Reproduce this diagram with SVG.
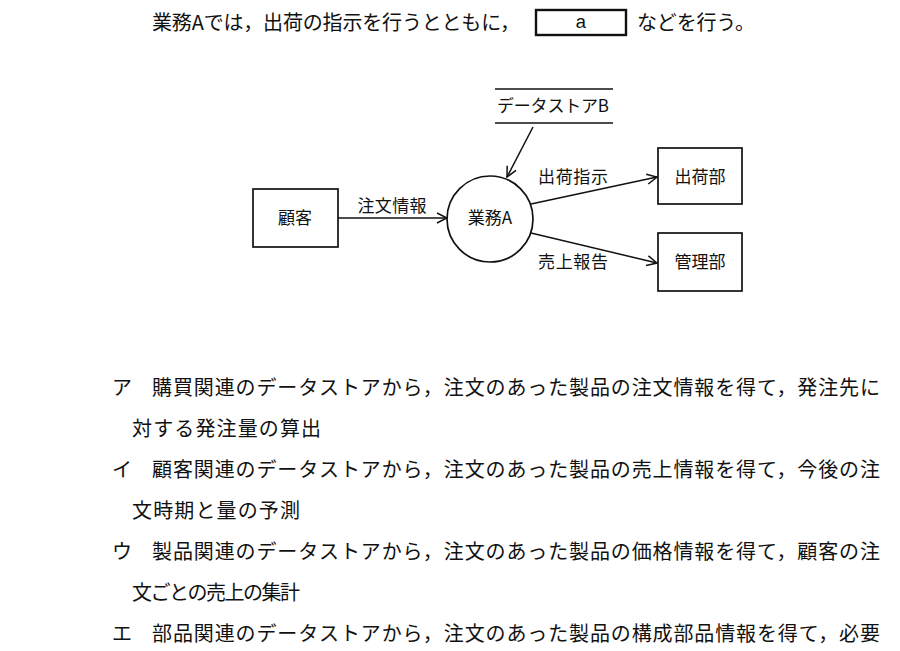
<svg xmlns="http://www.w3.org/2000/svg" width="900" height="651" viewBox="0 0 900 651">
<defs>
<style>
.t{font-family:"Noto Sans CJK JP","Liberation Sans",sans-serif;fill:#111;}
.d{font-size:17px;}
.q{font-size:20px;}
.box{fill:none;stroke:#111;stroke-width:1.7;}
.ln{fill:none;stroke:#111;stroke-width:1.5;}
</style>
<marker id="ah" viewBox="0 0 12 12" refX="11" refY="6" markerWidth="12" markerHeight="12" markerUnits="userSpaceOnUse" orient="auto">
<path d="M1,1 L11,6 L1,11" fill="none" stroke="#111" stroke-width="1.5"/>
</marker>
</defs>
<rect width="900" height="651" fill="#fff"/>

<g id="header">
<text class="t q" x="152" y="30" textLength="368" lengthAdjust="spacing">業務Aでは，出荷の指示を行うとともに，</text>
<rect x="536" y="10" width="90" height="25" fill="none" stroke="#111" stroke-width="2.4"/>
<text x="581" y="28" text-anchor="middle" font-family="Liberation Mono, monospace" font-size="19" fill="#111">a</text>
<text class="t q" x="637" y="30" textLength="118" lengthAdjust="spacing">などを行う。</text>
</g>

<g id="datastoreB">
<line class="ln" x1="495" y1="89" x2="613" y2="89"/>
<line class="ln" x1="495" y1="123" x2="613" y2="123"/>
<text class="t d" x="553" y="112" text-anchor="middle" textLength="112" lengthAdjust="spacing">データストアB</text>
</g>

<g id="customer">
<rect class="box" x="253" y="189" width="85" height="58"/>
<text class="t d" x="295" y="224" text-anchor="middle">顧客</text>
</g>

<g id="processA">
<circle class="box" cx="490" cy="219" r="43"/>
<text class="t d" x="490" y="224" text-anchor="middle">業務A</text>
</g>

<g id="shipping">
<rect class="box" x="658" y="148" width="84" height="56"/>
<text class="t d" x="700" y="183" text-anchor="middle">出荷部</text>
</g>

<g id="management">
<rect class="box" x="658" y="233" width="84" height="58"/>
<text class="t d" x="700" y="268" text-anchor="middle">管理部</text>
</g>

<g id="connectors">
<line class="ln" x1="533" y1="127" x2="507" y2="177" marker-end="url(#ah)"/>
<line class="ln" x1="338" y1="218" x2="447" y2="218" marker-end="url(#ah)"/>
<line class="ln" x1="531" y1="204" x2="657" y2="177" marker-end="url(#ah)"/>
<line class="ln" x1="531" y1="233" x2="657" y2="263" marker-end="url(#ah)"/>
<text class="t d" x="392" y="212" text-anchor="middle" textLength="69" lengthAdjust="spacing">注文情報</text>
<text class="t d" x="573" y="183" text-anchor="middle" textLength="70" lengthAdjust="spacing">出荷指示</text>
<text class="t d" x="573" y="268" text-anchor="middle" textLength="70" lengthAdjust="spacing">売上報告</text>
</g>

<g id="options">
<text class="t q" x="112" y="395">ア</text>
<text class="t q" x="152" y="395" textLength="728" lengthAdjust="spacing">購買関連のデータストアから，注文のあった製品の注文情報を得て，発注先に</text>
<text class="t q" x="132" y="436" textLength="189" lengthAdjust="spacing">対する発注量の算出</text>
<text class="t q" x="112" y="477">イ</text>
<text class="t q" x="152" y="477" textLength="728" lengthAdjust="spacing">顧客関連のデータストアから，注文のあった製品の売上情報を得て，今後の注</text>
<text class="t q" x="132" y="518" textLength="168" lengthAdjust="spacing">文時期と量の予測</text>
<text class="t q" x="112" y="559">ウ</text>
<text class="t q" x="152" y="559" textLength="728" lengthAdjust="spacing">製品関連のデータストアから，注文のあった製品の価格情報を得て，顧客の注</text>
<text class="t q" x="132" y="600" textLength="168" lengthAdjust="spacing">文ごとの売上の集計</text>
<text class="t q" x="112" y="641">エ</text>
<text class="t q" x="152" y="641" textLength="728" lengthAdjust="spacing">部品関連のデータストアから，注文のあった製品の構成部品情報を得て，必要</text>
</g>
</svg>
